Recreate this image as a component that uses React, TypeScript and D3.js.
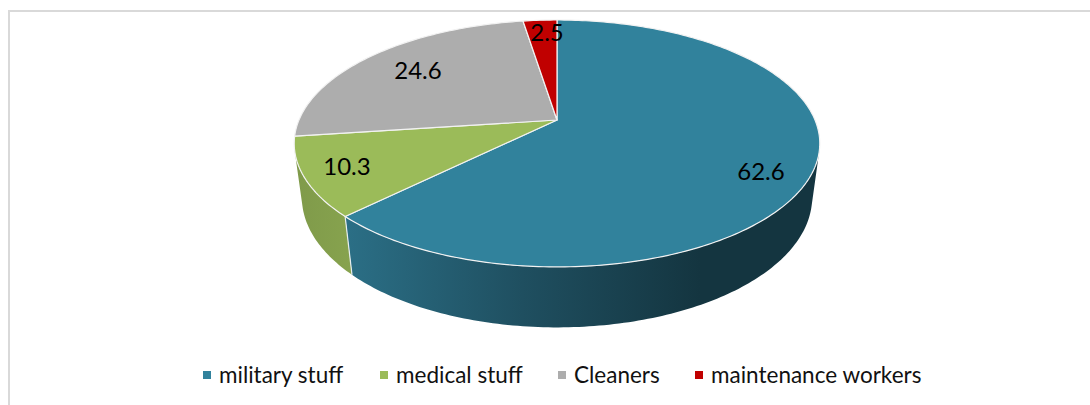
import React from 'react';
import * as d3 from 'd3';

// Shares
const categories = ['military stuff', 'medical stuff', 'Cleaners', 'maintenance workers'];
const shares = [62.6, 10.3, 24.6, 2.5];
const labels = ['62.6', '10.3', '24.6', '2.5'];
const topColors = ['#31829c', '#9bbb59', '#adadad', '#c00000'];

const width = 1090;
const height = 405;
const font = 'Lato, Carlito, sans-serif';

// Tilted disc: k and m are the perspective terms, read from the slice corners
const cx = 557;
const cy = 120;
const rx = 258;
const ry = 119;
const depth = 55;
const k = 0.19;
const m = 0.029;

// a is the pie angle (0 at 12 o'clock, clockwise), h is 0 on top and 1 on the base
function project(a: number, h: number): [number, number] {
  const u = Math.sin(a);
  const v = Math.cos(a);
  const w = 1 + k * v + m * h;
  return [cx + (rx * u) / w, cy + (-ry * v + depth * h) / w];
}

function arcPoints(a0: number, a1: number, h: number) {
  const n = Math.max(2, Math.ceil(Math.abs(a1 - a0) * 60));
  return d3.range(n + 1).map(i => project(a0 + ((a1 - a0) * i) / n, h));
}

// Angle where the rim edge is tangent to the top outline
function silhouette(from: number, to: number) {
  const side = (a: number) => {
    const p = project(a, 0);
    const q = project(a + 0.001, 0);
    const b = project(a, 1);
    return (q[0] - p[0]) * (b[1] - p[1]) - (q[1] - p[1]) * (b[0] - p[0]);
  };
  let lo = from;
  let hi = to;
  const sign = side(lo) > 0;
  for (let i = 0; i < 40; i++) {
    const mid = (lo + hi) / 2;
    if (side(mid) > 0 === sign) lo = mid;
    else hi = mid;
  }
  return lo;
}

const line = d3.line();

const App: React.FC = () => {
  const slices = d3.pie<number>().sort(null)(shares);
  const rightEdge = silhouette(0, Math.PI);
  const leftEdge = silhouette(Math.PI, Math.PI * 2);
  const mil = slices[0];
  const med = slices[1];

  const milWall = [...arcPoints(rightEdge, mil.endAngle, 0), ...arcPoints(mil.endAngle, rightEdge, 1)];
  const medWall = [...arcPoints(med.startAngle, leftEdge, 0), ...arcPoints(leftEdge, med.startAngle, 1)];

  const legendX = [203, 380, 558, 695];
  const labelPos: [number, number][] = [[761, 172], [347, 167], [418, 71], [547, 33]];

  return (
    <svg
      width={width}
      height={height}
      style={{ position: 'absolute', left: 0, top: 0, background: '#fff' }}
    >
      <defs>
        <linearGradient id="milSide" gradientUnits="userSpaceOnUse" x1={345} x2={700} y1={0} y2={0}>
          <stop offset="0" stopColor="#2b6f86" />
          <stop offset="0.5" stopColor="#1f4f60" />
          <stop offset="1" stopColor="#143540" />
        </linearGradient>
        <linearGradient id="medSide" gradientUnits="userSpaceOnUse" x1={295} x2={352} y1={0} y2={0}>
          <stop offset="0" stopColor="#7f9a4a" />
          <stop offset="1" stopColor="#87a34e" />
        </linearGradient>
      </defs>

      <path d="M9 405V11H1090" fill="none" stroke="#d9d9d9" strokeWidth={2} />

      <path d={line(medWall) + 'Z'} fill="url(#medSide)" />
      <path d={line(milWall) + 'Z'} fill="url(#milSide)" />
      <path d={line([project(mil.endAngle, 0), project(mil.endAngle, 1)]) ?? ''} stroke="#e8eef0" strokeWidth={1.2} />

      {slices.map((s, i) => (
        <path
          key={categories[i]}
          d={line([[cx, cy], ...arcPoints(s.startAngle, s.endAngle, 0)]) + 'Z'}
          fill={topColors[i]}
          stroke="#f2f2f2"
          strokeWidth={1.2}
          strokeLinejoin="round"
        />
      ))}

      {labels.map((t, i) => (
        <text
          key={t}
          x={labelPos[i][0]}
          y={labelPos[i][1]}
          dy="0.35em"
          textAnchor="middle"
          fontFamily={font}
          fontSize={24}
          fill="#000"
        >
          {t}
        </text>
      ))}

      {categories.map((c, i) => (
        <g key={c} transform={`translate(${legendX[i]},375)`}>
          <rect x={0} y={-4} width={8} height={8} fill={topColors[i]} />
          <text x={16} dy="0.35em" fontFamily={font} fontSize={22.5} fill="#111">
            {c}
          </text>
        </g>
      ))}
    </svg>
  );
};

export default App;
